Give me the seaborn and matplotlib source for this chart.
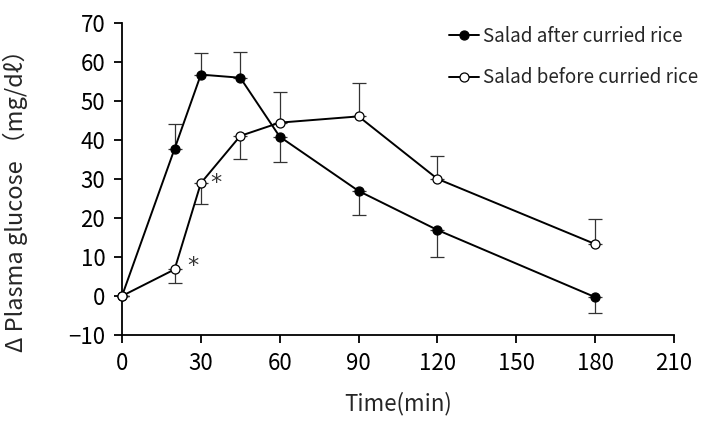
import numpy as np
import pandas as pd
import matplotlib
matplotlib.use("Agg")
import matplotlib.pyplot as plt
import seaborn as sns

sns.set_style("ticks")
plt.rcParams["font.family"] = ["Noto Sans CJK JP", "DejaVu Sans"]

# data
time_min = [0, 20, 30, 45, 60, 90, 120, 180]

after_mean = [0, 37.7, 56.7, 55.9, 40.8, 26.9, 16.9, -0.3]
after_err = [0, 6.3, 5.6, 6.6, 6.4, 6.2, 6.8, 4.1]
after_dir = [0, 1, 1, 1, -1, -1, -1, -1]   # +1 bar goes up, -1 goes down

before_mean = [0, 6.8, 28.9, 41.0, 44.4, 46.0, 30.0, 13.3]
before_err = [0, 3.6, 5.3, 6.0, 7.8, 8.6, 5.9, 6.3]
before_dir = [0, -1, -1, -1, 1, 1, 1, 1]

label_after = "Salad after curried rice"
label_before = "Salad before curried rice"

star_x = [26.8, 35.9]
star_y = [7.7, 29.0]

df_after = pd.DataFrame({"time": time_min, "glucose": after_mean})
df_before = pd.DataFrame({"time": time_min, "glucose": before_mean})

fig, ax = plt.subplots(figsize=(7.16, 4.33), dpi=100)
fig.subplots_adjust(left=0.1704, right=0.9413, top=0.9476, bottom=0.2263)

# one-sided error bars
for mean, err, sign in [(after_mean, after_err, after_dir),
                        (before_mean, before_err, before_dir)]:
    err = np.array(err)
    sign = np.array(sign)
    lower = np.where(sign < 0, err, 0)
    upper = np.where(sign > 0, err, 0)
    ax.errorbar(time_min, mean, yerr=[lower, upper], fmt="none",
                ecolor="#333333", elinewidth=0.9, capsize=5, capthick=0.9,
                zorder=2)

sns.lineplot(data=df_after, x="time", y="glucose", color="black",
             marker="o", markersize=7.5, markerfacecolor="black",
             markeredgecolor="black", markeredgewidth=0.9,
             linewidth=1.4, label=label_after, ax=ax, zorder=3, clip_on=False)
sns.lineplot(data=df_before, x="time", y="glucose", color="black",
             marker="o", markersize=7.5, markerfacecolor="white",
             markeredgecolor="black", markeredgewidth=0.9,
             linewidth=1.4, label=label_before, ax=ax, zorder=4, clip_on=False)

for x, y in zip(star_x, star_y):
    ax.text(x, y, "*", ha="center", va="center", fontsize=16, color="#333333",
            family="DejaVu Sans")

ax.set_xlim(0, 210)
ax.set_ylim(-10, 70)
ax.set_xticks(range(0, 211, 30))
ax.set_yticks(range(-10, 71, 10))
ax.set_yticklabels(["\u221210"] + [str(v) for v in range(0, 71, 10)])
ax.tick_params(labelsize=16, length=6, width=1.3, direction="out",
               colors="black", pad=6)
for s in ["left", "bottom"]:
    ax.spines[s].set_linewidth(1.3)
    ax.spines[s].set_color("black")
sns.despine(ax=ax)

ax.set_xlabel("Time(min)", fontsize=16, labelpad=12)
ax.set_ylabel("\u0394 Plasma glucose （mg/dℓ）", fontsize=17)
ax.yaxis.set_label_coords(-0.17, 0.45)

handles, labels = ax.get_legend_handles_labels()
for h in handles:
    h.set_markersize(6.5)
ax.legend(handles, labels, loc="upper left", bbox_to_anchor=(0.562, 1.045),
          frameon=False, fontsize=13.5, handlelength=1.6, handletextpad=0.2,
          labelspacing=1.1)

plt.savefig("out.png", dpi=100)
